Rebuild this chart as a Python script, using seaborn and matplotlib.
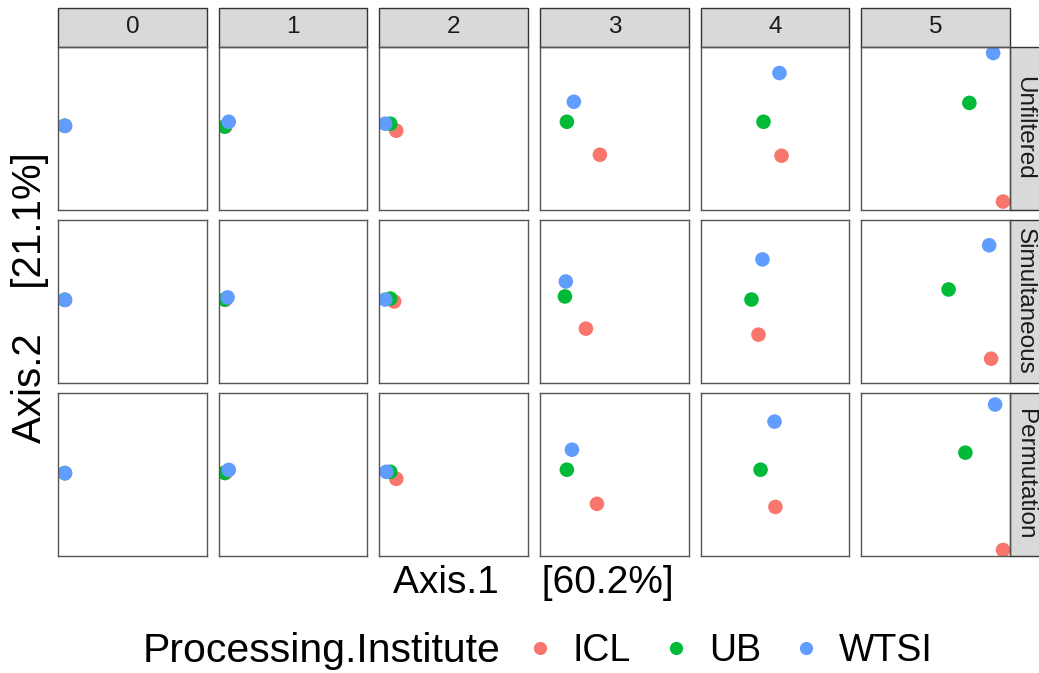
import numpy as np
import pandas as pd
import seaborn as sns
import matplotlib
matplotlib.use("Agg")
import matplotlib.pyplot as plt
from matplotlib.patches import Rectangle

# ---- data ----
groups = ["0", "1", "2", "3", "4", "5"]
filters = ["Unfiltered", "Simultaneous", "Permutation"]
institutes = ["ICL", "UB", "WTSI"]
colors = ["#F8766D", "#00BA38", "#619CFF"]

ICL_x = [[0.047, 0.045, 0.114, 0.403, 0.544, 0.953],
         [0.047, 0.045, 0.100, 0.309, 0.389, 0.873],
         [0.047, 0.045, 0.114, 0.383, 0.503, 0.953]]
ICL_y = [[0.515, 0.510, 0.485, 0.337, 0.331, 0.049],
         [0.510, 0.510, 0.500, 0.333, 0.296, 0.148],
         [0.510, 0.510, 0.475, 0.321, 0.302, 0.037]]
UB_x = [[0.045, 0.040, 0.074, 0.181, 0.423, 0.727],
        [0.045, 0.040, 0.074, 0.168, 0.342, 0.587],
        [0.045, 0.040, 0.074, 0.181, 0.403, 0.700]]
UB_y = [[0.515, 0.510, 0.528, 0.540, 0.540, 0.656],
        [0.510, 0.512, 0.518, 0.531, 0.512, 0.574],
        [0.510, 0.512, 0.518, 0.531, 0.531, 0.636]]
WTSI_x = [[0.047, 0.068, 0.040, 0.228, 0.530, 0.887],
          [0.047, 0.060, 0.040, 0.174, 0.416, 0.860],
          [0.047, 0.068, 0.047, 0.215, 0.497, 0.900]]
WTSI_y = [[0.515, 0.540, 0.528, 0.663, 0.840, 0.963],
          [0.510, 0.525, 0.512, 0.623, 0.759, 0.846],
          [0.510, 0.530, 0.518, 0.654, 0.827, 0.932]]

xs = {"ICL": ICL_x, "UB": UB_x, "WTSI": WTSI_x}
ys = {"ICL": ICL_y, "UB": UB_y, "WTSI": WTSI_y}

rows = []
for inst in institutes:
    for fi, f in enumerate(filters):
        for gi, g in enumerate(groups):
            rows.append(dict(Filter=f, Group=g, Institute=inst,
                             Axis1=xs[inst][fi][gi], Axis2=ys[inst][fi][gi]))
df = pd.DataFrame(rows)

sns.set_theme(style="white")
plt.rcParams["font.family"] = ["Liberation Sans", "DejaVu Sans"]
plt.rcParams["text.color"] = "black"

g = sns.FacetGrid(df, row="Filter", col="Group", row_order=filters, col_order=groups,
                  sharex=True, sharey=True, margin_titles=False, despine=False)
g.map_dataframe(sns.scatterplot, x="Axis1", y="Axis2", hue="Institute",
                hue_order=institutes, palette=colors, s=110, linewidth=0, alpha=1)
g.figure.set_size_inches(10.39, 6.73)
g.figure.subplots_adjust(left=58/1039, right=1010/1039, top=1-47/673, bottom=1-556/673,
                         wspace=0.08, hspace=0.066)
g.set_titles("")
g.set(xlim=(0, 1), ylim=(0, 1), xticks=[], yticks=[], xlabel="", ylabel="")

nr, nc = g.axes.shape
for i in range(nr):
    for j in range(nc):
        ax = g.axes[i, j]
        ax.set_title("")
        for sp in ax.spines.values():
            sp.set_color("#555555")
            sp.set_linewidth(1.0)
        ax.set_facecolor("white")
        if i == 0:
            h = 39 / 162.3
            ax.add_patch(Rectangle((0, 1), 1, h, transform=ax.transAxes, clip_on=False,
                                   facecolor="#D9D9D9", edgecolor="#333333", linewidth=1.0))
            ax.text(0.5, 1 + h / 2, groups[j], transform=ax.transAxes, ha="center",
                    va="center", fontsize=17.5, color="#1A1A1A")
        if j == nc - 1:
            w = 30 / 148.7
            ax.add_patch(Rectangle((1, 0), w, 1, transform=ax.transAxes, clip_on=False,
                                   facecolor="#D9D9D9", edgecolor="#333333", linewidth=1.0))
            ax.text(1 + 14.5 / 148.7, 0.5, filters[i], transform=ax.transAxes, ha="center",
                    va="center", rotation=-90, fontsize=17.5, color="#1A1A1A")

fig = g.figure
fig.text(0.513, 1 - 583/673, "Axis.1    [60.2%]", ha="center", va="center", fontsize=28,
         color="black")
fig.text(0.029, 1 - 298/673, "Axis.2    [21.1%]", ha="center", va="center",
         rotation=90, fontsize=29, color="black")

handles = [plt.Line2D([], [], marker="o", linestyle="", markersize=9.5,
                      markerfacecolor=c, markeredgewidth=0) for c in colors]
fig.text(143/1039, 1 - 651/673, "Processing.Institute", ha="left", va="center",
         fontsize=29.5, color="black")
fig.legend(handles, institutes, loc="center left", bbox_to_anchor=(531/1039, 1 - 651/673),
           ncol=3, frameon=False, fontsize=27, handletextpad=0.62, columnspacing=0.95,
           handlelength=0.5, borderaxespad=0, borderpad=0, labelcolor="black")

fig.savefig("out.png", dpi=100, facecolor="white")
